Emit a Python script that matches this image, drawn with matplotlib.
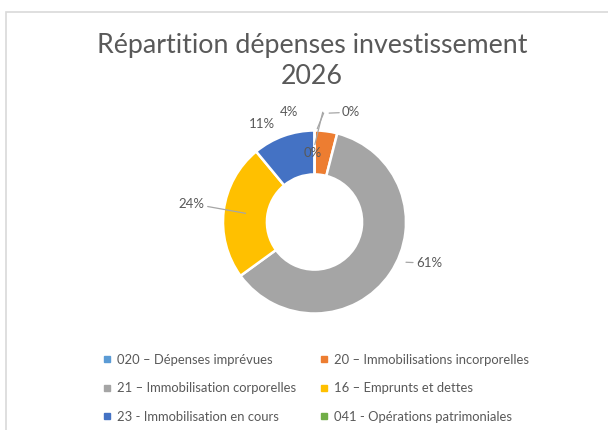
import numpy as np
import matplotlib.pyplot as plt
from matplotlib.patches import Rectangle
from matplotlib.lines import Line2D

plt.rcParams['font.family'] = ['Lato', 'DejaVu Sans']

# données
categories = [
    "020 – Dépenses imprévues",
    "20 – Immobilisations incorporelles",
    "21 – Immobilisation corporelles",
    "16 – Emprunts et dettes",
    "23 - Immobilisation en cours",
    "041 - Opérations patrimoniales",
]
values = [0.0, 4.0, 61.0, 24.0, 11.0, 0.0]
pct_labels = ["0%", "4%", "61%", "24%", "11%", "0%"]
colors = ["#5B9BD5", "#ED7D31", "#A5A5A5", "#FFC000", "#4472C4", "#70AD47"]

TXT = "#595959"
W, H = 608, 430

fig = plt.figure(figsize=(W / 100, H / 100), dpi=100)

# cadre du graphique (style Excel)
fig.patches.append(Rectangle((6 / W, -0.02), 1.1, 1 - 12 / H + 0.02,
                             transform=fig.transFigure, fill=False,
                             edgecolor="#D9D9D9", lw=1.2, clip_on=False))

fig.text(312 / W, 1 - 45 / H, "Répartition dépenses investissement",
         ha="center", va="center", fontsize=19.3, color=TXT)
fig.text(312 / W, 1 - 76 / H, "2026", ha="center", va="center",
         fontsize=19.3, color=TXT)

# anneau
cx, cy, r = 314.5, 222, 91.5
ax = fig.add_axes([(cx - r) / W, (H - cy - r) / H, 2 * r / W, 2 * r / H])
wedges, _ = ax.pie(values, colors=colors, startangle=90, counterclock=False,
                   radius=1.0,
                   wedgeprops=dict(width=0.48, edgecolor="white", linewidth=1.8))
ax.set_xlim(-1, 1)
ax.set_ylim(-1, 1)
ax.axis("off")

# étiquettes de pourcentage
total = sum(values)
starts = np.cumsum([0] + values[:-1])
mids = [90 - (s + v / 2) / total * 360 for s, v in zip(starts, values)]


def pt(angle, rad):
    a = np.deg2rad(angle)
    return rad * np.cos(a), rad * np.sin(a)


lab_kw = dict(fontsize=9.5, color=TXT, annotation_clip=False)
line_kw = dict(arrowstyle="-", color="#A6A6A6", lw=0.9, shrinkA=0, shrinkB=0)

# 020 (0%) dans le trou, trait vers l'anneau
ax.annotate(pct_labels[0], xy=(0.09, 1.2), xytext=(-0.02, 0.75),
            ha="center", va="center", arrowprops=line_kw, **lab_kw)
# 20 (4%)
ax.annotate(pct_labels[1], xy=pt(mids[1], 0.9), xytext=(-0.28, 1.2),
            ha="center", va="center", **lab_kw)
ax.annotate("", xy=(0.03, 1.02), xytext=(0.1, 1.19), arrowprops=line_kw,
            annotation_clip=False)
# 21 (61%)
ax.annotate(pct_labels[2], xy=(1.0, -0.44), xytext=(1.25, -0.45),
            ha="center", va="center", arrowprops=line_kw, **lab_kw)
# 16 (24%)
ax.annotate(pct_labels[3], xy=pt(mids[3], 0.76), xytext=(-1.34, 0.2),
            ha="center", va="center", arrowprops=line_kw, **lab_kw)
# 23 (11%)
ax.annotate(pct_labels[4], xy=pt(mids[4], 1.0), xytext=(-0.57, 1.07),
            ha="center", va="center", **lab_kw)
# 041 (0%)
ax.annotate(pct_labels[5], xy=(0.16, 1.19), xytext=(0.4, 1.2),
            ha="center", va="center", arrowprops=line_kw, **lab_kw)

# légende sur deux colonnes (ordre de remplissage par colonne)
handles = [Line2D([], [], marker="s", ls="none", markersize=5,
                  markerfacecolor=c, markeredgecolor=c) for c in colors]
order = [0, 2, 4, 1, 3, 5]
fig.legend([handles[i] for i in order], [categories[i] for i in order],
           loc="upper left", bbox_to_anchor=(97 / W, 1 - 347.5 / H), ncol=2,
           frameon=False, fontsize=9.4, labelcolor=TXT, handlelength=0.6,
           handletextpad=0.4, labelspacing=1.26, columnspacing=1.9,
           borderpad=0)

fig.savefig("out.png", dpi=100)
